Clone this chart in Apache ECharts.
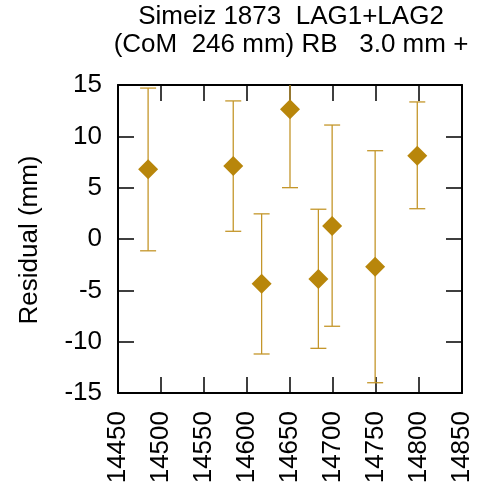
<!DOCTYPE html>
<html><head><meta charset="utf-8">
<script src="https://cdn.jsdelivr.net/npm/echarts@6/dist/echarts.min.js"></script>
<style>html,body{margin:0;padding:0;background:#fff}#c{width:480px;height:488px}</style>
</head><body><div id="c"></div>
<script>
const titleLines = ['Simeiz 1873  LAG1+LAG2', '(CoM  246 mm) RB   3.0 mm +'];
const yLabel = 'Residual (mm)';
const xs = [14485, 14584, 14617, 14650, 14683, 14699, 14749, 14798];
const ys = [6.8, 7.1, -4.35, 12.65, -3.9, 1.27, -2.7, 8.1];
const lows = [-1.15, 0.75, -11.2, 5.0, -10.65, -8.5, -14.0, 2.95];
const highs = [14.7, 13.45, 2.45, 20.3, 2.9, 11.1, 8.6, 13.35];
const xMin = 14450, xMax = 14850, xStep = 50;
const yMin = -15, yMax = 15, yStep = 5;

const FONT = '"Liberation Sans", Arial, sans-serif';
const FS = 26;
const gold = '#b8860b';
const barColor = '#c4962a';

const chart = echarts.init(document.getElementById('c'), null, {renderer: 'canvas'});

function axisX(pos, labels) {
  return {
    type: 'value', position: pos, min: xMin, max: xMax, interval: xStep,
    axisLine: {show: true, onZero: false, lineStyle: {color: '#000', width: 2}},
    axisTick: {show: true, inside: true, length: 16, lineStyle: {color: '#000', width: 1.5}},
    axisLabel: {show: labels, rotate: 90, margin: 18, fontSize: FS, color: '#000', fontFamily: FONT,
      formatter: v => String(v),
      showMinLabel: true, showMaxLabel: true, hideOverlap: false},
    splitLine: {show: false}
  };
}
function axisY(pos, labels) {
  return {
    type: 'value', position: pos, min: yMin, max: yMax, interval: yStep,
    axisLine: {show: true, onZero: false, lineStyle: {color: '#000', width: 2}},
    axisTick: {show: true, inside: true, length: 16, lineStyle: {color: '#000', width: 1.5}},
    axisLabel: {show: labels, margin: 16, fontSize: FS, color: '#000', fontFamily: FONT,
      formatter: v => String(v),
      showMinLabel: true, showMaxLabel: true},
    splitLine: {show: false}
  };
}

const errData = xs.map((x, i) => [x, lows[i], highs[i]]);
const ptData = xs.map((x, i) => [x, ys[i]]);

chart.setOption({
  animation: false,
  backgroundColor: '#fff',
  grid: {left: 118, right: 18, top: 85, bottom: 95, containLabel: false},
  xAxis: [axisX('bottom', true), axisX('top', false)],
  yAxis: [axisY('left', true), axisY('right', false)],
  graphic: [
    {type: 'text', x: 291, y: 3, silent: true,
      style: {text: titleLines.join('\n'), font: FS + 'px ' + FONT, fill: '#000',
        align: 'center', verticalAlign: 'top', lineHeight: 28}},
    {type: 'text', x: 30, y: 240, rotation: Math.PI / 2, silent: true,
      style: {text: yLabel, font: FS + 'px ' + FONT, fill: '#000',
        align: 'center', verticalAlign: 'middle'}}
  ],
  series: [
    {
      type: 'custom', xAxisIndex: 0, yAxisIndex: 0, clip: true, z: 2,
      data: errData,
      renderItem: function (params, api) {
        const x = api.value(0), lo = api.value(1), hi = api.value(2);
        const a = api.coord([x, lo]);
        const b = api.coord([x, hi]);
        const hw = 8;
        const st = {stroke: barColor, lineWidth: 1.3};
        return {type: 'group', children: [
          {type: 'line', shape: {x1: a[0], y1: a[1], x2: b[0], y2: b[1]}, style: st},
          {type: 'line', shape: {x1: a[0] - hw, y1: a[1], x2: a[0] + hw, y2: a[1]}, style: st},
          {type: 'line', shape: {x1: b[0] - hw, y1: b[1], x2: b[0] + hw, y2: b[1]}, style: st}
        ]};
      }
    },
    {
      type: 'scatter', xAxisIndex: 0, yAxisIndex: 0, z: 3,
      symbol: 'diamond', symbolSize: [20, 20],
      itemStyle: {color: gold, opacity: 1},
      data: ptData
    }
  ]
});
</script>
</body></html>
